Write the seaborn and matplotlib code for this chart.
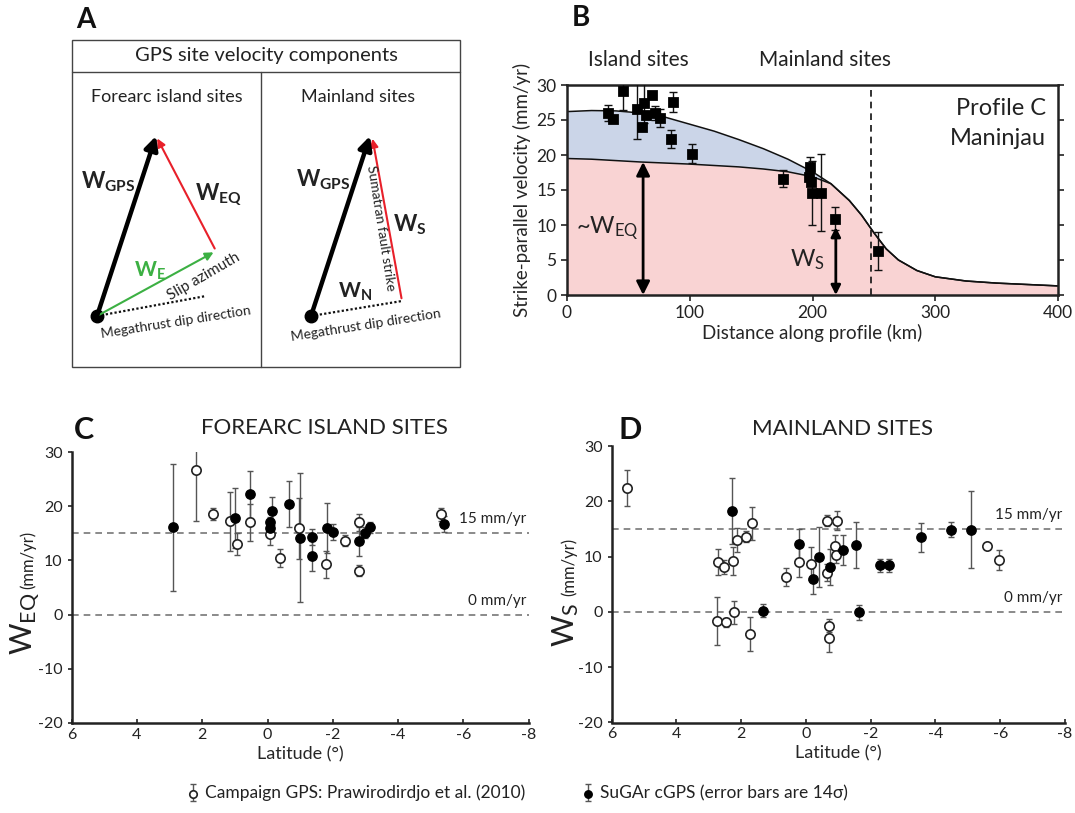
import numpy as np
import pandas as pd
import matplotlib
matplotlib.use("Agg")
import matplotlib.pyplot as plt
import seaborn as sns
from matplotlib.patches import Rectangle
from matplotlib.legend_handler import HandlerTuple

sns.set_style("ticks")
FONT = ['Lato', 'DejaVu Sans']
plt.rcParams['font.family'] = FONT
plt.rcParams['mathtext.fontset'] = 'custom'
plt.rcParams['mathtext.rm'] = 'Lato'
plt.rcParams['mathtext.it'] = 'Lato:italic'
plt.rcParams['mathtext.bf'] = 'Lato:bold'
plt.rcParams['axes.edgecolor'] = '#222222'
plt.rcParams['xtick.color'] = '#222222'
plt.rcParams['ytick.color'] = '#222222'
plt.rcParams['text.color'] = '#222222'

# ---------------- Panel B data ----------------
b_dist = [33.7, 37.7, 45.3, 57.4, 61.5, 62.8, 64.2, 69.3, 71.4, 75.5, 84.9, 86.3, 101.9,
          176.0, 197.0, 198.0, 199.0, 199.5, 207.0, 218.7, 253.0]
b_vel = [26.0, 25.2, 29.2, 26.5, 24.0, 27.4, 25.7, 28.6, 26.0, 25.3, 22.3, 27.6, 20.2,
         16.6, 16.85, 18.3, 16.1, 14.6, 14.6, 10.9, 6.3]
b_err = [1.2, 0.3, 2.8, 4.2, 0.4, 2.9, 0.5, 0.3, 1.0, 1.3, 1.3, 1.4, 1.3,
         1.2, 0.3, 1.4, 0.5, 4.6, 5.5, 1.6, 2.7]

curve_x = [0, 20, 40, 60, 80, 100, 120, 140, 160, 180, 200, 215, 230, 240, 250, 260, 270,
           285, 300, 325, 350, 375, 400]
curve_total = [26.2, 26.35, 26.3, 26.0, 25.4, 24.4, 23.4, 22.2, 20.9, 19.4, 17.6, 15.9, 13.5,
               11.4, 8.9, 6.6, 5.0, 3.5, 2.6, 2.0, 1.7, 1.5, 1.3]
curve_fault = [19.5, 19.4, 19.2, 19.0, 18.85, 18.7, 18.5, 18.3, 18.0, 17.6, 16.9, 15.9, 13.5,
               11.4, 8.9, 6.6, 5.0, 3.5, 2.6, 2.0, 1.7, 1.5, 1.3]
fault_trace_km = 248
weq_arrow_km, weq_arrow_top = 62, 19.0
ws_arrow_km, ws_arrow_top = 219, 9.7

# ---------------- Panel C data (forearc islands) ----------------
c_camp_lat = [2.19, 1.66, 1.14, 0.92, 0.53, -0.08, -0.39, -0.96, -1.79, -2.38, -2.81, -2.81, -5.33]
c_camp_v = [26.7, 18.6, 17.2, 13.0, 17.0, 14.9, 10.4, 15.9, 9.3, 13.6, 17.0, 8.1, 18.5]
c_camp_err = [9.4, 1.1, 5.4, 2.0, 3.4, 2.0, 1.7, 5.7, 2.5, 1.0, 1.6, 1.0, 1.2]

c_cgps_lat = [2.90, 1.01, 0.53, -0.14, -0.08, -0.08, -0.67, -1.01, -1.35, -1.35, -1.83, -2.02,
              -2.81, -2.98, -3.13, -5.40]
c_cgps_v = [16.1, 17.8, 22.2, 19.1, 17.0, 15.9, 20.4, 14.2, 14.3, 10.8, 15.9, 15.3,
            13.5, 15.1, 16.1, 16.7]
c_cgps_err = [11.7, 5.6, 4.3, 2.6, 1.0, 1.0, 4.2, 11.9, 1.5, 2.8, 4.6, 1.5,
              2.6, 1.0, 1.0, 1.5]

# ---------------- Panel D data (mainland) ----------------
d_camp_lat = [5.52, 2.73, 2.52, 2.25, 2.12, 1.86, 1.67, 2.75, 2.46, 2.22, 1.72, 0.62, 0.21,
              -0.17, -0.64, -0.95, -0.64, -0.90, -0.94, -0.72, -0.72, -5.60, -5.95]
d_camp_v = [22.4, 9.0, 8.1, 9.2, 13.0, 13.6, 16.0, -1.6, -1.9, -0.1, -4.0, 6.3, 9.0,
            8.75, 16.5, 16.5, 7.1, 11.9, 10.3, -2.5, -4.8, 12.0, 9.35]
d_camp_err = [3.3, 2.4, 1.3, 2.6, 2.1, 1.0, 3.0, 4.3, 0.8, 2.0, 3.0, 1.7, 2.7,
              2.9, 1.0, 1.7, 1.6, 2.0, 1.5, 1.2, 2.4, 0.0, 1.8]

d_cgps_lat = [2.29, 1.33, 0.21, -0.22, -0.41, -0.74, -1.13, -1.54, -1.63, -2.28, -2.56,
              -3.55, -4.47, -5.11]
d_cgps_v = [18.2, 0.25, 12.2, 5.9, 9.9, 8.1, 11.2, 12.1, -0.1, 8.4, 8.4, 13.5, 14.9, 14.9]
d_cgps_err = [6.0, 1.1, 2.8, 2.6, 5.4, 3.3, 2.7, 4.1, 1.4, 1.2, 1.2, 2.6, 1.4, 6.9]

ref_lines = [15, 0]
ref_labels = ['15 mm/yr', '0 mm/yr']
lat_ticks = [6, 4, 2, 0, -2, -4, -6, -8]
w_ticks = [30, 20, 10, 0, -10, -20]
legend_labels = ['Campaign GPS: Prawirodirdjo et al. (2010)', 'SuGAr cGPS (error bars are 14\u03c3)']

# ---------------- Figure ----------------
W, H = 1075, 813
fig = plt.figure(figsize=(W / 100, H / 100), dpi=100)


def px_axes(l, t, r, b):
    return fig.add_axes([l / W, 1 - b / H, (r - l) / W, (b - t) / H])


# ======== Panel A: schematic ========
axA = px_axes(60, 0, 475, 380)
axA.set_xlim(60, 475)
axA.set_ylim(380, 0)
axA.axis('off')
axA.text(76, 20, 'A', fontsize=20, fontweight='bold', ha='left', va='center', color='#111')
axA.add_patch(Rectangle((72, 40), 388, 327, fill=False, lw=1.0, ec='#444'))
axA.plot([72, 460], [72, 72], color='#444', lw=1.0)
axA.plot([261, 261], [72, 367], color='#444', lw=1.0)
axA.text(266, 56, 'GPS site velocity components', fontsize=14.5, ha='center', va='center')
axA.text(167, 97, 'Forearc island sites', fontsize=13, ha='center', va='center')
axA.text(358, 97, 'Mainland sites', fontsize=13, ha='center', va='center')

# left diagram
L_dot = (97, 316)
L_tip = (156, 136)
L_slip = (216, 251)
L_dip_end = (206, 296)
axA.plot([L_dot[0], L_dip_end[0]], [L_dot[1], L_dip_end[1]], ls=(0, (1, 1)), color='#111', lw=1.6)
axA.annotate('', xy=L_slip, xytext=L_dot,
             arrowprops=dict(arrowstyle='-|>', color='#3cb043', lw=1.5, mutation_scale=12))
axA.annotate('', xy=L_tip, xytext=L_slip,
             arrowprops=dict(arrowstyle='-|>', color='#e8202a', lw=1.5, mutation_scale=12))
axA.annotate('', xy=L_tip, xytext=L_dot,
             arrowprops=dict(arrowstyle='-|>', color='#000', lw=3.2, mutation_scale=20,
                             shrinkA=0, shrinkB=0))
axA.plot(*L_dot, 'o', color='#000', ms=9)
axA.text(108, 182, r'$\mathbf{W}_{\mathbf{GPS}}$', fontsize=16, ha='center', va='center')
axA.text(219, 195, r'$\mathbf{W}_{\mathbf{EQ}}$', fontsize=16, ha='center', va='center')
axA.text(150, 271, r'$\mathbf{W}_{\mathbf{E}}$', fontsize=15, ha='center', va='center', color='#3cb043')
axA.text(204, 277, 'Slip azimuth', fontsize=11, ha='center', va='center', rotation=30)
axA.text(176, 322, 'Megathrust dip direction', fontsize=10, ha='center', va='center', rotation=9)

# right diagram
R_dot = (311, 316)
R_tip = (370, 136)
R_base = (402, 301)
axA.plot([R_dot[0], R_base[0]], [R_dot[1], R_base[1]], ls=(0, (1, 1)), color='#111', lw=1.6)
axA.annotate('', xy=(372, 136), xytext=R_base,
             arrowprops=dict(arrowstyle='-|>', color='#e8202a', lw=1.5, mutation_scale=12))
axA.annotate('', xy=R_tip, xytext=R_dot,
             arrowprops=dict(arrowstyle='-|>', color='#000', lw=3.2, mutation_scale=20,
                             shrinkA=0, shrinkB=0))
axA.plot(*R_dot, 'o', color='#000', ms=9)
axA.text(323, 180, r'$\mathbf{W}_{\mathbf{GPS}}$', fontsize=16, ha='center', va='center')
axA.text(410, 225, r'$\mathbf{W}_{\mathbf{S}}$', fontsize=16, ha='center', va='center')
axA.text(355, 292, r'$\mathbf{W}_{\mathbf{N}}$', fontsize=15, ha='center', va='center')
axA.text(381, 228, 'Sumatran fault strike', fontsize=10, ha='center', va='center', rotation=-81)
axA.text(366, 325, 'Megathrust dip direction', fontsize=10, ha='center', va='center', rotation=9)

# ======== Panel B ========
axB = px_axes(567, 85, 1058, 295)
axB.fill_between(curve_x, curve_fault, curve_total, color='#cbd5e8', lw=0)
axB.fill_between(curve_x, 0, curve_fault, color='#f9d3d3', lw=0)
sns.lineplot(x=curve_x, y=curve_total, ax=axB, color='#111', lw=1.1)
sns.lineplot(x=curve_x, y=curve_fault, ax=axB, color='#111', lw=1.1)
axB.axvline(fault_trace_km, color='#111', ls=(0, (4, 3)), lw=1.2)
axB.errorbar(b_dist, b_vel, yerr=b_err, fmt='none', ecolor='#111', elinewidth=1,
             capsize=3, capthick=1, zorder=3)
sns.scatterplot(x=b_dist, y=b_vel, ax=axB, marker='s', color='#000', s=50, edgecolor='#000', zorder=4)
axB.annotate('', xy=(weq_arrow_km, 0), xytext=(weq_arrow_km, weq_arrow_top),
             arrowprops=dict(arrowstyle='<|-|>', color='#000', lw=2, mutation_scale=20,
                             shrinkA=0, shrinkB=0))
axB.annotate('', xy=(ws_arrow_km, 0), xytext=(ws_arrow_km, ws_arrow_top),
             arrowprops=dict(arrowstyle='<|-|>', color='#000', lw=2, mutation_scale=14,
                             shrinkA=0, shrinkB=0))
axB.text(33, 9.5, r'~W$_{\mathregular{EQ}}$', fontsize=17, ha='center', va='center')
axB.text(196, 5.0, r'W$_{\mathregular{S}}$', fontsize=17, ha='center', va='center')
axB.text(390, 26.6, 'Profile C', fontsize=17, ha='right', va='center')
axB.text(390, 22.3, 'Maninjau', fontsize=17, ha='right', va='center')
axB.text(58, 33.6, 'Island sites', fontsize=15, ha='center', va='center', clip_on=False)
axB.text(210, 33.6, 'Mainland sites', fontsize=15, ha='center', va='center', clip_on=False)
axB.set_xlim(0, 400)
axB.set_ylim(0, 30)
axB.set_xticks([0, 100, 200, 300, 400])
axB.set_yticks([0, 5, 10, 15, 20, 25, 30])
axB.tick_params(axis='both', labelsize=12.5, direction='out', length=4, width=1.2)
axB.tick_params(axis='y', right=True)
for s in axB.spines.values():
    s.set_linewidth(1.8)
axB.set_xlabel('Distance along profile (km)', fontsize=13.5, labelpad=2)
axB.set_ylabel('Strike-parallel velocity (mm/yr)', fontsize=13.5, labelpad=4)
fig.text(572 / W, 1 - 18 / H, 'B', fontsize=20, fontweight='bold', ha='left', va='center', color='#111')


# ======== Panels C and D ========
def lat_panel(ax, camp_lat, camp_v, camp_err, cg_lat, cg_v, cg_err):
    for yv, lab in zip(ref_lines, ref_labels):
        ax.axhline(yv, color='#777', ls=(0, (4, 3)), lw=1.2, zorder=1)
        ax.text(0.995, yv + 1.3, lab, transform=ax.get_yaxis_transform(), ha='right',
                va='bottom', fontsize=11)
    e1 = ax.errorbar(camp_lat, camp_v, yerr=camp_err, fmt='none', ecolor='#555',
                     elinewidth=1, capsize=2.5, capthick=1, zorder=2)
    e2 = ax.errorbar(cg_lat, cg_v, yerr=cg_err, fmt='none', ecolor='#555',
                     elinewidth=1, capsize=2.5, capthick=1, zorder=2)
    sns.scatterplot(x=camp_lat, y=camp_v, ax=ax, marker='o', s=45, facecolor='white',
                    edgecolor='#222', linewidth=1.2, zorder=3)
    s1 = ax.collections[-1]
    sns.scatterplot(x=cg_lat, y=cg_v, ax=ax, marker='o', s=45, color='#000',
                    edgecolor='#000', linewidth=1.0, zorder=4)
    s2 = ax.collections[-1]
    ax.set_xlim(6, -8)
    ax.set_ylim(-20, 30)
    ax.set_xticks(lat_ticks)
    ax.set_yticks(w_ticks)
    ax.set_xticklabels([str(t) for t in lat_ticks])
    ax.set_yticklabels([str(t) for t in w_ticks])
    sns.despine(ax=ax)
    for s in ['left', 'bottom']:
        ax.spines[s].set_linewidth(1.8)
    ax.tick_params(axis='both', labelsize=11.5, length=3, width=1.2)
    ax.tick_params(axis='x', direction='in')
    ax.set_xlabel('Latitude (\u00b0)', fontsize=13, labelpad=3)
    return (e1, s1), (e2, s2)


axC = px_axes(71.7, 452, 528.6, 723)
hC1, hC2 = lat_panel(axC, c_camp_lat, c_camp_v, c_camp_err, c_cgps_lat, c_cgps_v, c_cgps_err)
axD = px_axes(611.7, 446, 1065, 722.5)
lat_panel(axD, d_camp_lat, d_camp_v, d_camp_err, d_cgps_lat, d_cgps_v, d_cgps_err)

fig.text(324 / W, 1 - 428 / H, 'FOREARC ISLAND SITES', fontsize=16, ha='center', va='center')
fig.text(842 / W, 1 - 429 / H, 'MAINLAND SITES', fontsize=16, ha='center', va='center')
fig.text(84 / W, 1 - 430 / H, 'C', fontsize=22, fontweight='bold', ha='center', va='center', color='#111')
fig.text(630 / W, 1 - 430 / H, 'D', fontsize=22, fontweight='bold', ha='center', va='center', color='#111')

fig.text(25 / W, 1 - 623 / H, r'W$_{\mathregular{EQ}}$', fontsize=22, rotation=90, ha='center', va='center')
fig.text(28 / W, 1 - 560 / H, '(mm/yr)', fontsize=12, rotation=90, ha='center', va='center')
fig.text(566 / W, 1 - 625 / H, r'W$_{\mathregular{S}}$', fontsize=22, rotation=90, ha='center', va='center')
fig.text(569 / W, 1 - 567 / H, '(mm/yr)', fontsize=12, rotation=90, ha='center', va='center')

fig.legend([hC1, hC2], legend_labels, loc='center', bbox_to_anchor=(517 / W, 1 - 793 / H),
           ncol=2, frameon=False, fontsize=12.5, columnspacing=3.2, handletextpad=0.3,
           handler_map={tuple: HandlerTuple(ndivide=1, pad=0)}, handlelength=0.8,
           markerscale=0.8)

fig.savefig('out.png', dpi=100)
